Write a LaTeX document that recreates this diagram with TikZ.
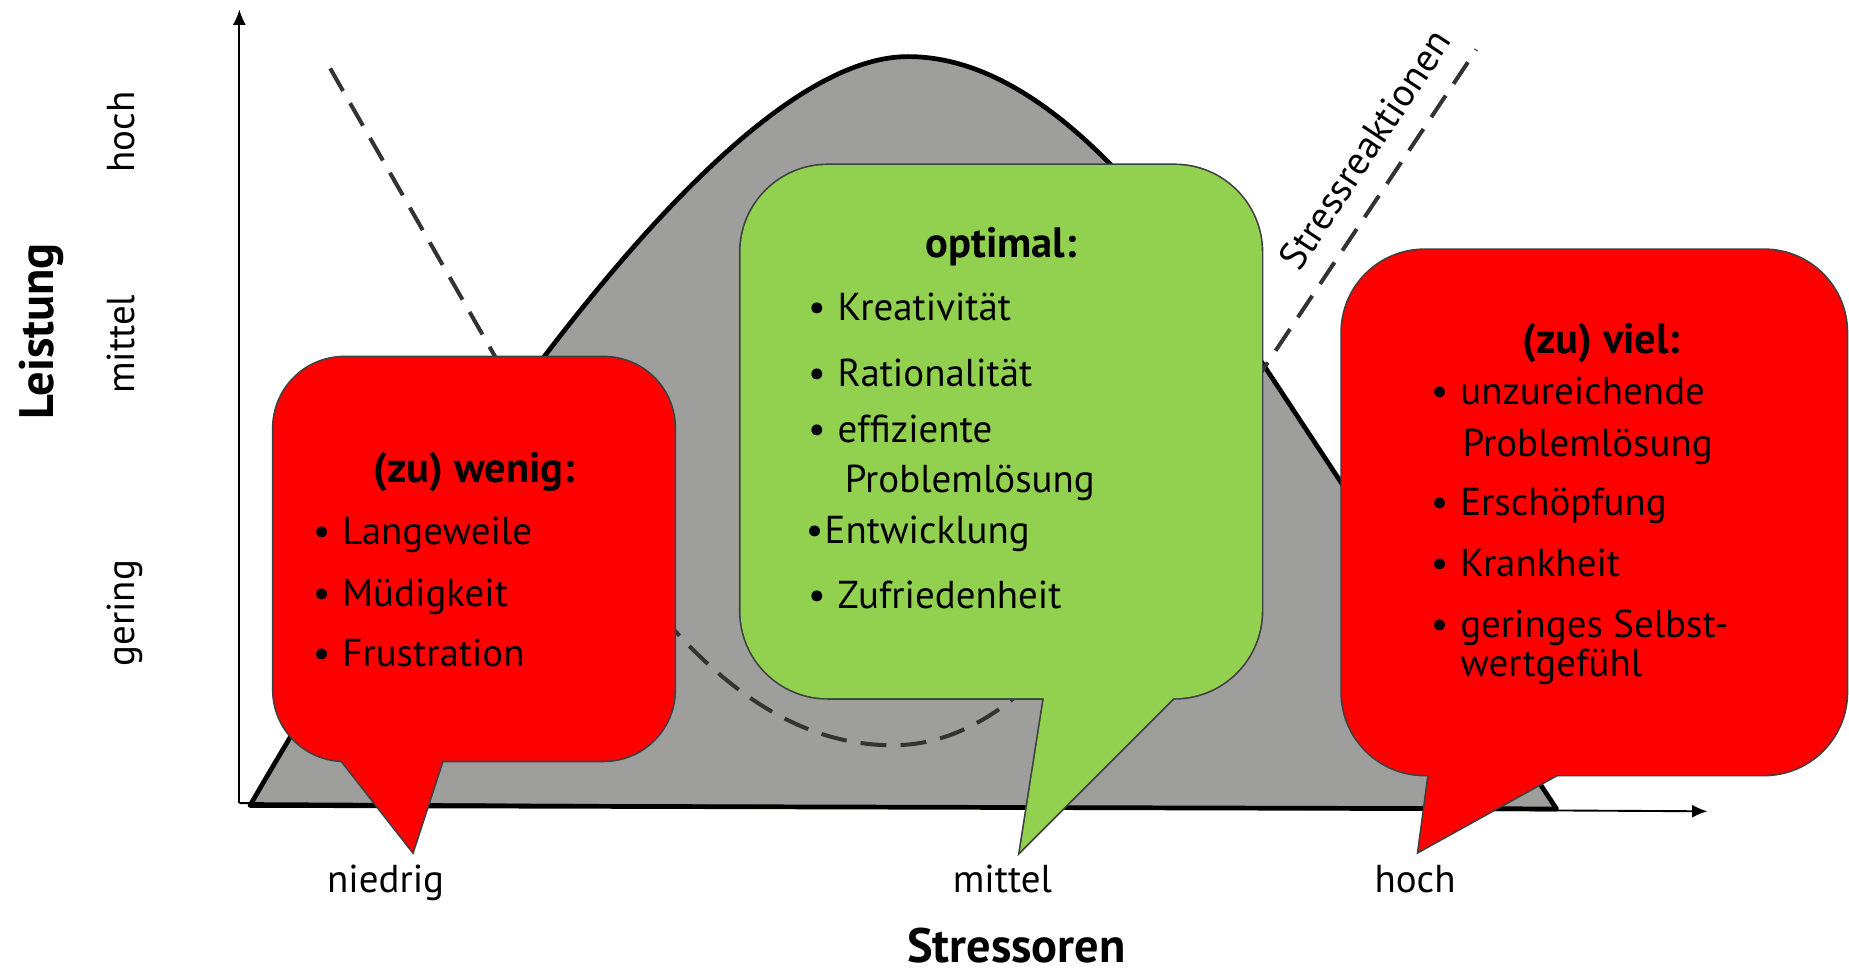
\documentclass[tikz,border=0pt]{standalone}
\usepackage{fontspec}
\setmainfont{PT Sans}
\usetikzlibrary{arrows.meta}
\definecolor{bellgray}{RGB}{158,158,157}
\definecolor{callred}{RGB}{255,0,0}
\definecolor{callgreen}{RGB}{146,208,80}
\definecolor{edgegray}{RGB}{64,64,64}
\definecolor{dashgray}{RGB}{51,51,51}
\newcommand\bul{\makebox[12.5pt][l]{•}}
\begin{document}
\begin{tikzpicture}[x=0.5pt,y=-0.5pt,
  axis/.style={line width=0.8pt, -{Latex[length=6.5pt,width=5.5pt]}},
  bell/.style={fill=bellgray, draw=black, line width=2pt, line join=round},
  trend/.style={draw=dashgray, line width=1.7pt, dash pattern=on 11pt off 6pt},
  bubbleedge/.style={draw=edgegray, line width=1.4pt},
  bodytext/.style={font=\fontsize{16.5}{20}\selectfont, anchor=base west, inner sep=0pt},
  titletext/.style={font=\fontsize{18}{22}\selectfont\bfseries, anchor=base, inner sep=0pt},
  labtext/.style={font=\fontsize{16.5}{20}\selectfont, anchor=base, inner sep=0pt},
  bigtext/.style={font=\fontsize{20.5}{24}\selectfont\bfseries, anchor=base, inner sep=0pt},
]
\useasboundingbox (0,0) rectangle (1568,825);

% axes and curves
\coordinate (origin) at (203,681);
\coordinate (ytop) at (203,8);
\coordinate (xend) at (1448,688);
\draw[axis] (origin) -- (ytop);
\path[bell] (212,683) .. controls (330,480) and (600,48) .. (770,48)
   .. controls (880,48) and (980,170) .. (1060,292) -- (1320,686) -- cycle;
\draw[axis] (origin) -- (xend);
\draw[trend] (280,58) -- (470,390) .. controls (560,545) and (650,632) .. (757,632)
   .. controls (840,632) and (900,560) .. (960,480) -- (1252,42);

% bubble: (zu) wenig
\coordinate (wtip) at (350,722);
\draw[bubbleedge, rounded corners=30pt] (232,303) rectangle (572,645);
\draw[bubbleedge] (278,630) -- (wtip) -- (380,630) -- cycle;
\fill[callred, rounded corners=30pt] (232,303) rectangle (572,645);
\fill[callred] (278,630) -- (wtip) -- (380,630) -- cycle;

% bubble: optimal
\coordinate (gtip) at (865,722);
\draw[bubbleedge, rounded corners=37pt] (628,140) rectangle (1070,592);
\draw[bubbleedge] (888,575) -- (gtip) -- (1012,575) -- cycle;
\fill[callgreen, rounded corners=37pt] (628,140) rectangle (1070,592);
\fill[callgreen] (888,575) -- (gtip) -- (1012,575) -- cycle;

% bubble: (zu) viel
\coordinate (vtip) at (1203,722);
\draw[bubbleedge, rounded corners=35pt] (1138,212) rectangle (1566,657);
\draw[bubbleedge] (1214,640) -- (vtip) -- (1351,640) -- cycle;
\fill[callred, rounded corners=35pt] (1138,212) rectangle (1566,657);
\fill[callred] (1214,640) -- (vtip) -- (1351,640) -- cycle;

% texts: wenig
\node[titletext] (wtitle) at (402,409) {(zu) wenig:};
\node[bodytext] (w1) at (265,462) {\bul Langeweile};
\node[bodytext] (w2) at (265,514) {\bul Müdigkeit};
\node[bodytext] (w3) at (265,565) {\bul Frustration};

% texts: optimal
\node[titletext] (gtitle) at (849,218) {optimal:};
\node[bodytext] (g1) at (685,272) {\bul Kreativität};
\node[bodytext] (g2) at (685,328) {\bul Rationalität};
\node[bodytext] (g3) at (685,375) {\bul effiziente};
\node[bodytext] (g3b) at (716,418) {Problemlösung};
\node[bodytext] (g4) at (683,461) {\makebox[8pt][l]{•}Entwicklung};
\node[bodytext] (g5) at (685,516) {\bul Zufriedenheit};

% texts: viel
\node[titletext] (vtitle) at (1358,300) {(zu) viel:};
\node[bodytext] (v1) at (1213,343) {\bul unzureichende};
\node[bodytext] (v1b) at (1240,387) {Problemlösung};
\node[bodytext] (v2) at (1213,437) {\bul Erschöpfung};
\node[bodytext] (v3) at (1213,489) {\bul Krankheit};
\node[bodytext] (v4) at (1213,541) {\bul geringes Selbst-};
\node[bodytext] (v4b) at (1238,574) {wertgefühl};

% axis labels
\node[labtext] (xl1) at (327,757) {niedrig};
\node[labtext] (xl2) at (850,757) {mittel};
\node[labtext] (xl3) at (1200,757) {hoch};
\node[bigtext] (xtitle) at (862,816) {Stressoren};
\node[labtext, rotate=90] (yl1) at (114,112) {hoch};
\node[labtext, rotate=90] (yl2) at (114,292) {mittel};
\node[labtext, rotate=90] (yl3) at (114,520) {gering};
\node[bigtext, rotate=90] (ytitle) at (45,281) {Leistung};
\node[labtext, font=\fontsize{16.5}{20}\selectfont, rotate=56.5] (stressr) at (1167,133) {Stressreaktionen};
\end{tikzpicture}
\end{document}
